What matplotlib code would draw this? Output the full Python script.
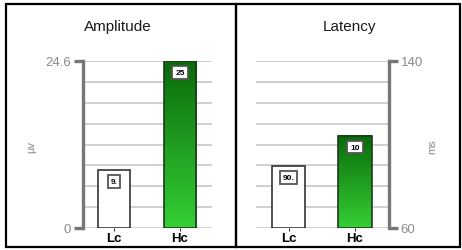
import numpy as np
import matplotlib.pyplot as plt
from matplotlib.colors import LinearSegmentedColormap
from matplotlib.patches import Rectangle

plt.rcParams['font.family'] = ['Liberation Sans', 'DejaVu Sans']

# Data
categories = ['Lc', 'Hc']
amp_values = [8.5, 24.6]
amp_labels = ['9.', '25']
amp_ticks = [0, 24.6]
amp_ticklabels = ['0', '24.6']
lat_values = [89.7, 104.1]
lat_labels = ['90.', '10']
lat_ticks = [60, 140]
lat_ticklabels = ['60', '140']

W, H = 462, 251
fig = plt.figure(figsize=(W / 100, H / 100), dpi=100)


def px_axes(x0, y0, x1, y1):
    return fig.add_axes([x0 / W, 1 - y1 / H, (x1 - x0) / W, (y1 - y0) / H])


green = LinearSegmentedColormap.from_list('g', ['#35cf35', '#0a6a0a'])
axis_gray = '#777777'
label_gray = '#8a8a8a'


def draw_panel(ax, values, labels, ticks, ticklabels, xlim, width, side):
    ymin, ymax = ticks
    # gridlines
    for y in np.linspace(ymin, ymax, 9):
        ax.axhline(y, color='#d0d0d0', lw=1.4, zorder=0)
    x = np.arange(len(categories))
    heights = [v - ymin for v in values]
    # Lc white bar
    ax.bar(x[0], heights[0], bottom=ymin, width=width, color='white',
           edgecolor='#333333', lw=1.2, zorder=2)
    # Hc gradient bar
    grad = np.linspace(0, 1, 256).reshape(-1, 1)
    ax.imshow(grad, extent=[x[1] - width / 2, x[1] + width / 2, ymin, values[1]],
              origin='lower', cmap=green, aspect='auto', zorder=2)
    ax.bar(x[1], heights[1], bottom=ymin, width=width, color='none',
           edgecolor='#1e3a1e', lw=1.2, zorder=3)
    for i in range(len(categories)):
        ax.annotate(labels[i], xy=(x[i], values[i]), xytext=(0, -8),
                    textcoords='offset points', ha='center', va='center',
                    fontsize=6, fontweight='bold', zorder=5,
                    bbox=dict(boxstyle='square,pad=0.35', fc='white',
                              ec='#555555', lw=1.3))
    ax.set_xlim(*xlim)
    ax.set_ylim(ymin, ymax)
    ax.set_xticks(x)
    ax.set_xticklabels(categories, fontsize=9.5, fontweight='bold')
    ax.tick_params(axis='x', length=2.5, width=0.8, color='#333333', pad=0.5)
    for s in ['top', 'bottom', 'left', 'right']:
        ax.spines[s].set_visible(False)
    ax.spines[side].set_visible(True)
    ax.spines[side].set_color(axis_gray)
    ax.spines[side].set_linewidth(2.4)
    if side == 'right':
        ax.yaxis.tick_right()
    ax.set_yticks(ticks)
    ax.set_yticklabels(ticklabels)
    ax.tick_params(axis='y', length=6.5, width=2.4, color=axis_gray,
                   labelcolor=label_gray, labelsize=9.5, pad=2)
    ax.set_facecolor('none')


ax1 = px_axes(83, 62, 212, 229)
draw_panel(ax1, amp_values, amp_labels, amp_ticks, amp_ticklabels,
           (-0.47, 1.485), 0.485, 'left')
ax2 = px_axes(256, 62, 389, 229)
draw_panel(ax2, lat_values, lat_labels, lat_ticks, lat_ticklabels,
           (-0.489, 1.511), 0.5, 'right')

# Titles and units
fig.text(118 / W, 1 - 27 / H, 'Amplitude', ha='center', va='center',
         fontsize=11, color='#1a1a1a')
fig.text(349 / W, 1 - 27 / H, 'Latency', ha='center', va='center',
         fontsize=11, color='#1a1a1a')
fig.text(31 / W, 1 - 147 / H, 'µv', ha='center', va='center', rotation=90,
         fontsize=8, color=label_gray)
fig.text(432 / W, 1 - 147 / H, 'ms', ha='center', va='center', rotation=90,
         fontsize=8, color=label_gray)

# Panel borders
for x0, x1 in [(6, 236), (236, 460)]:
    fig.patches.append(Rectangle((x0 / W, 1 - 248 / H), (x1 - x0) / W, 243 / H,
                                 transform=fig.transFigure, fill=False,
                                 ec='black', lw=1.6))

fig.savefig('out.png', dpi=100)
